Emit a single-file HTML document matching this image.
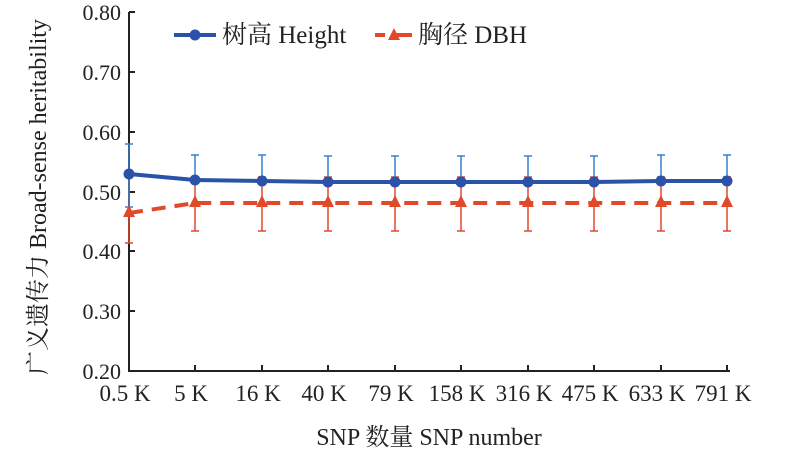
<!DOCTYPE html>
<html><head><meta charset="utf-8"><style>
body{margin:0;background:#fff}
text{font-family:"Liberation Serif","Noto Serif CJK SC",serif;fill:#222}
</style></head><body>
<svg width="800" height="453" xmlns="http://www.w3.org/2000/svg">
<g stroke="#222" stroke-width="2" fill="none">
<path d="M129 12V371H730"/>
<path d="M129 72h6M129 132h6M129 192h6M129 251h6M129 311h6M129 12h6"/>
<path d="M195 371v-6M262 371v-6M328 371v-6M395 371v-6M461 371v-6M528 371v-6M594 371v-6M661 371v-6M727 371v-6"/>
</g>
<g font-size="22" text-anchor="end">
<text x="121" y="20">0.80</text><text x="121" y="80">0.70</text><text x="121" y="140">0.60</text>
<text x="121" y="200">0.50</text><text x="121" y="259">0.40</text><text x="121" y="319">0.30</text><text x="121" y="379">0.20</text>
</g>
<g font-size="23" text-anchor="middle">
<text x="125" y="401">0.5 K</text><text x="191" y="401">5 K</text><text x="258" y="401">16 K</text><text x="324" y="401">40 K</text><text x="391" y="401">79 K</text><text x="457" y="401">158 K</text><text x="524" y="401">316 K</text><text x="590" y="401">475 K</text><text x="657" y="401">633 K</text><text x="723" y="401">791 K</text>
</g>
<g text-anchor="middle">
<text x="429" y="445" font-size="24">SNP 数量 SNP number</text>
<text transform="translate(46 197) rotate(-90)" font-size="24">广义遗传力 Broad-sense heritability</text>
</g>
<g stroke="#e04a2a" stroke-width="1.5">
<path d="M129 177V243M125 243h8"/>
<path d="M195 177V231M191 231h8M191 177h8M262 177V231M258 231h8M258 177h8M328 177V231M324 231h8M324 177h8M395 177V231M391 231h8M391 177h8M461 177V231M457 231h8M457 177h8M528 177V231M524 231h8M524 177h8M594 177V231M590 231h8M590 177h8M661 177V231M657 231h8M657 177h8M727 177V231M723 231h8M723 177h8"/>
</g>
<g stroke="#3a7fd0" stroke-width="1.5">
<path d="M129 144V207M125 144h8M125 207h8"/>
<path d="M195 155V181M191 155h8M262 155V181M258 155h8M328 156V181M324 156h8M395 156V181M391 156h8M461 156V181M457 156h8M528 156V181M524 156h8M594 156V181M590 156h8M661 155V181M657 155h8M727 155V181M723 155h8"/>
</g>
<polyline fill="none" stroke="#e04a2a" stroke-width="4" stroke-dasharray="14 9" points="129,213 195,203 262,203 328,203 395,203 461,203 528,203 594,203 661,203 727,203"/>
<g fill="#e04a2a">
<polygon points="129,205 135,217 123,217"/><polygon points="195,195 201,207 189,207"/><polygon points="262,195 268,207 256,207"/><polygon points="328,195 334,207 322,207"/><polygon points="395,195 401,207 389,207"/><polygon points="461,195 467,207 455,207"/><polygon points="528,195 534,207 522,207"/><polygon points="594,195 600,207 588,207"/><polygon points="661,195 667,207 655,207"/><polygon points="727,195 733,207 721,207"/>
</g>
<polyline fill="none" stroke="#2a52a8" stroke-width="4" points="129,174 195,180 262,181 328,182 395,182 461,182 528,182 594,182 661,181 727,181"/>
<g fill="#2a52a8">
<circle cx="129" cy="174" r="5.5"/><circle cx="195" cy="180" r="5.5"/><circle cx="262" cy="181" r="5.5"/><circle cx="328" cy="182" r="5.5"/><circle cx="395" cy="182" r="5.5"/><circle cx="461" cy="182" r="5.5"/><circle cx="528" cy="182" r="5.5"/><circle cx="594" cy="182" r="5.5"/><circle cx="661" cy="181" r="5.5"/><circle cx="727" cy="181" r="5.5"/>
</g>
<path d="M174 35h42" stroke="#2a52a8" stroke-width="4"/><circle cx="195" cy="35" r="5.5" fill="#2a52a8"/>
<text x="222" y="43" font-size="25">树高 Height</text>
<path d="M375 35h10M394 35h18" stroke="#e04a2a" stroke-width="4"/><polygon points="394,28 400,40 388,40" fill="#e04a2a"/>
<text x="418" y="43" font-size="25">胸径 DBH</text>
</svg>
</body></html>
